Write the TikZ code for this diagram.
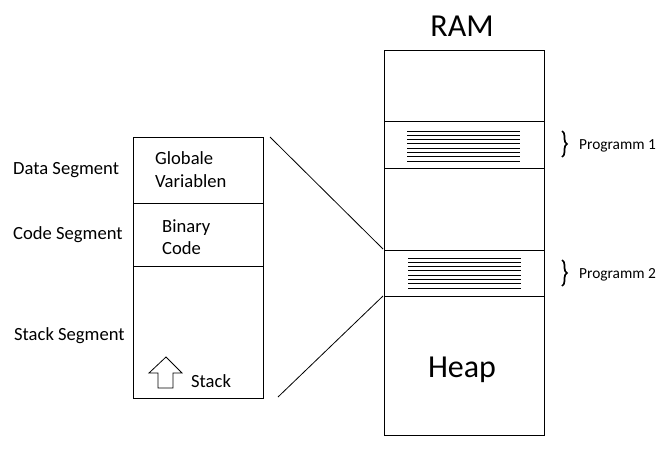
\documentclass[tikz,border=0pt]{standalone}
\usepackage{fontspec}
\setmainfont{Carlito}
\usetikzlibrary{decorations.pathreplacing}
\tikzset{
  lbl/.style={anchor=base west, inner sep=0pt, font=\fontsize{18.6}{22}\selectfont},
  prog/.style={anchor=base west, inner sep=0pt, font=\fontsize{15.4}{18}\selectfont},
  big/.style={anchor=base, inner sep=0pt, font=\fontsize{32}{38}\selectfont},
  box/.style={draw=black, line width=1pt},
  stripe/.style={line width=1pt},
  conn/.style={line width=0.8pt},
  brc/.style={decorate, decoration={brace, amplitude=5pt}, line width=1.7pt}
}
\begin{document}
\begin{tikzpicture}[x=1pt,y=-1pt]
\useasboundingbox[fill=white] (0,0) rectangle (670,448);
% RAM column
\draw[box] (384,50) rectangle (544,435);
\draw[box] (384,121) -- (544,121);
\draw[box] (384,168) -- (544,168);
\draw[box] (384,250) -- (544,250);
\draw[box] (384,296) -- (544,296);
\node[big] (ram) at (462,36) {RAM};
\node[big] (heap) at (462,377) {Heap};
% stripes
\foreach \i in {0,...,7}{
  \draw[stripe] (407,{131+\i*30/7}) -- (520,{131+\i*30/7});
  \draw[stripe] (408,{258+\i*30/7}) -- (521,{258+\i*30/7});
}
% braces
\draw[brc] (562,131) -- (562,157);
\draw[brc] (562,260) -- (562,286);
\node[prog] (p1) at (579,149) {Programm 1};
\node[prog] (p2) at (579,278) {Programm 2};
% process box
\draw[box] (133,137) rectangle (263,398);
\draw[box] (133,203) -- (263,203);
\draw[box] (133,266) -- (263,266);
\node[lbl] (glob) at (155,164) {Globale};
\node[lbl] (var) at (155,187) {Variablen};
\node[lbl] (bin) at (162,232) {Binary};
\node[lbl] (code) at (162,254) {Code};
\node[lbl] (stk) at (191,387) {Stack};
\draw[line width=0.8pt, line join=miter] (166,357) -- (182,373) -- (173,373) -- (173,388) -- (158,388) -- (158,373) -- (149,373) -- cycle;
% side labels
\node[lbl] (ds) at (13,174) {Data Segment};
\node[lbl] (cs) at (13,239) {Code Segment};
\node[lbl] (ss) at (14,340) {Stack Segment};
% connectors
\coordinate (a1) at (270,137);
\coordinate (a2) at (383,249);
\coordinate (b1) at (278,397);
\coordinate (b2) at (383,296);
\draw[conn] (a1) -- (a2);
\draw[conn] (b1) -- (b2);
\end{tikzpicture}
\end{document}
